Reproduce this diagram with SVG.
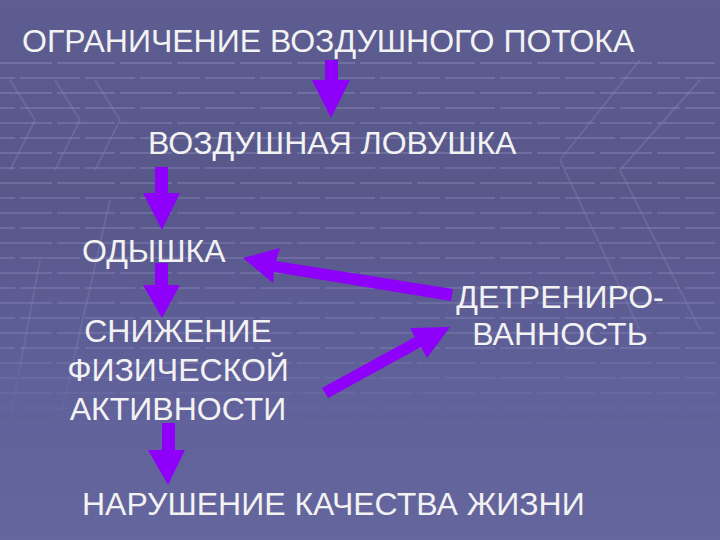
<svg xmlns="http://www.w3.org/2000/svg" width="720" height="540" viewBox="0 0 720 540">
  <defs>
    <linearGradient id="bg" x1="0" y1="0" x2="0" y2="1">
      <stop offset="0" stop-color="#5d5d92"/>
      <stop offset="0.35" stop-color="#57578a"/>
      <stop offset="0.7" stop-color="#60609a"/>
      <stop offset="1" stop-color="#66669e"/>
    </linearGradient>
    <pattern id="grid" x="0" y="62" width="120" height="30" patternUnits="userSpaceOnUse">
      <line x1="0" y1="1" x2="52" y2="1" stroke="#8a8abb" stroke-width="2" opacity="0.45"/>
      <line x1="57" y1="1" x2="115" y2="1" stroke="#8a8abb" stroke-width="2" opacity="0.45"/>
      <line x1="20" y1="16" x2="80" y2="16" stroke="#8a8abb" stroke-width="2" opacity="0.45"/>
      <line x1="85" y1="16" x2="135" y2="16" stroke="#8a8abb" stroke-width="2" opacity="0.45"/>
      <line x1="-15" y1="16" x2="15" y2="16" stroke="#8a8abb" stroke-width="2" opacity="0.45"/>
    </pattern>
    <linearGradient id="fade" x1="0" y1="0" x2="0" y2="1">
      <stop offset="0" stop-color="#fff" stop-opacity="1"/>
      <stop offset="0.75" stop-color="#fff" stop-opacity="0.8"/>
      <stop offset="1" stop-color="#fff" stop-opacity="0"/>
    </linearGradient>
    <mask id="m"><rect x="0" y="60" width="720" height="380" fill="url(#fade)"/></mask>
    <style>
      .t { font-family: "Liberation Sans", Arial, sans-serif; font-size: 32px; fill: #f2f2f2; }
      .c { text-anchor: middle; }
      .a { fill: #8e00fa; }
    </style>
  </defs>
  <rect width="720" height="540" fill="url(#bg)"/>
  <g id="background" mask="url(#m)">
    <rect x="0" y="60" width="720" height="380" fill="url(#grid)"/>
    <g stroke="#8a8abb" stroke-width="2" fill="none" opacity="0.35">
      <polyline points="10,80 35,120 10,170"/>
      <polyline points="55,80 80,120 55,170"/>
      <polyline points="95,80 120,120 95,170"/>
      <line x1="640" y1="60" x2="560" y2="160"/>
      <line x1="700" y1="80" x2="620" y2="170"/>
      <line x1="560" y1="160" x2="640" y2="330"/>
      <line x1="620" y1="170" x2="700" y2="330"/>
      <line x1="110" y1="200" x2="60" y2="420"/>
      <line x1="40" y1="260" x2="10" y2="420"/>
    </g>
  </g>
  <g id="connectors">
    <polygon class="a" points="325,60 338,60 338,80 350,80 331,118 312,80 325,80"/>
    <polygon class="a" points="155,167 168,167 168,193 180,193 162,230 143,193 155,193"/>
    <polygon class="a" points="155,263 168,263 168,285 180,285 162,318 143,285 155,285"/>
    <polygon class="a" points="162,423 175,423 175,450 185,450 168,485 148,450 162,450"/>
    <polygon class="a" points="243,258 280,248 276,261 453,289 451,301 274,272 273,283"/>
    <polygon class="a" points="450,327 427,358 421,347 328,398 322,388 415,337 410,328"/>
  </g>
  <g id="node-limit"><text class="t" x="22" y="52">ОГРАНИЧЕНИЕ ВОЗДУШНОГО ПОТОКА</text></g>
  <g id="node-trap"><text class="t" x="148" y="154">ВОЗДУШНАЯ ЛОВУШКА</text></g>
  <g id="node-dyspnea"><text class="t" x="82" y="262">ОДЫШКА</text></g>
  <g id="node-activity">
    <text class="t c" x="178" y="342">СНИЖЕНИЕ</text>
    <text class="t c" x="178" y="381">ФИЗИЧЕСКОЙ</text>
    <text class="t c" x="178" y="420">АКТИВНОСТИ</text>
  </g>
  <g id="node-detraining">
    <text class="t c" x="560" y="308">ДЕТРЕНИРО-</text>
    <text class="t c" x="560" y="345">ВАННОСТЬ</text>
  </g>
  <g id="node-quality"><text class="t" x="82" y="515">НАРУШЕНИЕ КАЧЕСТВА ЖИЗНИ</text></g>
</svg>
